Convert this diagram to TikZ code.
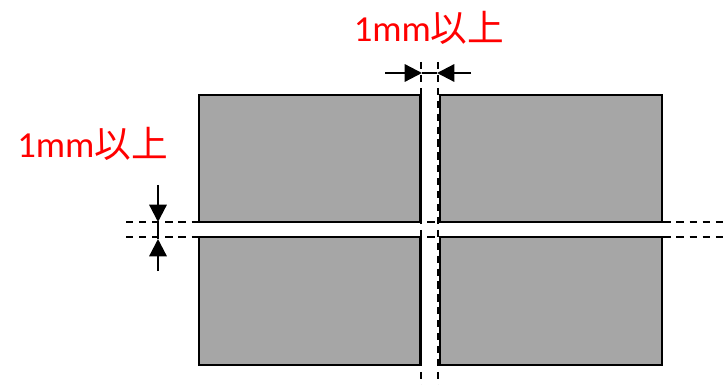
\documentclass[tikz,border=0pt]{standalone}
\usepackage{fontspec}
\setmainfont{Carlito}
\newfontfamily\jpfont{Noto Sans CJK JP}
\usetikzlibrary{arrows.meta}
\definecolor{panelgray}{RGB}{166,166,166}
\tikzset{
    panel/.style={draw=black,fill=panelgray,line width=2.2pt},
    cutline/.style={black,line width=1.3pt,dash pattern=on 5.4pt off 4.43pt},
    vcutline/.style={black,line width=1.3pt,dash pattern=on 5.4pt off 4.28pt},
    gapline/.style={black,line width=.9pt},
    dimarrow/.style={black,line width=1.7pt,-{Triangle[length=13pt,width=13pt]}},
    gaplabel/.style={red,font=\fontsize{27.5}{27.5}\selectfont,inner sep=0pt},
}
\newcommand{\jlabel}{1mm{\jpfont 以上}}
\begin{document}
\begin{tikzpicture}[x=.75pt,y=-.75pt]

    \useasboundingbox (0,0) rectangle (726,385);

    % panels
    \draw[panel] (199,95) rectangle (420.5,222);
    \draw[panel] (440,95) rectangle (662,222);
    \draw[panel] (199,237) rectangle (420.5,365);
    \draw[panel] (440,237) rectangle (662,365);

    % cutting lines
    \coordinate (vOneTop) at (421,62);
    \coordinate (vOneEnd) at (421,385);
    \coordinate (vTwoTop) at (438,62);
    \coordinate (vTwoEnd) at (438,385);
    \coordinate (hOneTop) at (126,222);
    \coordinate (hOneEnd) at (726,222);
    \coordinate (hTwoTop) at (126,237);
    \coordinate (hTwoEnd) at (726,237);

    \draw[vcutline] (vOneTop) -- (vOneEnd);
    \draw[vcutline] (vTwoTop) -- (vTwoEnd);
    \draw[cutline] (hOneTop) -- (hOneEnd);
    \draw[cutline] (hTwoTop) -- (hTwoEnd);

    % gap marks
    \coordinate (topLeft) at (385,73);
    \coordinate (topA) at (422,73);
    \coordinate (topB) at (437,73);
    \coordinate (topRight) at (471,73);
    \coordinate (sideUp) at (158,185);
    \coordinate (sideA) at (158,222);
    \coordinate (sideB) at (158,239);
    \coordinate (sideDown) at (158,271);

    \draw[gapline] (topA) -- (topB);
    \draw[gapline] (sideA) -- (sideB);
    \draw[dimarrow] (topLeft) -- (topA);
    \draw[dimarrow] (topRight) -- (topB);
    \draw[dimarrow] (sideUp) -- (sideA);
    \draw[dimarrow] (sideDown) -- (sideB);

    \node[gaplabel] (topLabel) at (429,28) {\jlabel};
    \node[gaplabel] (sideLabel) at (92.5,144) {\jlabel};

\end{tikzpicture}
\end{document}
